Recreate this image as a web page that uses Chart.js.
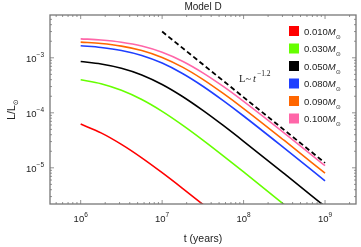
<!DOCTYPE html>
<html>
<head>
<meta charset="utf-8">
<script src="https://cdn.jsdelivr.net/npm/chart.js@4.4.1/dist/chart.umd.min.js"></script>
<style>
  html, body { margin: 0; padding: 0; background: #fff; }
  #wrap { width: 361px; height: 247px; }
</style>
</head>
<body>
<div id="wrap"><canvas id="chart" width="361" height="247"></canvas></div>
<script>
// time grid (years)
var times = [1e6, 1.778e6, 3.162e6, 5.623e6, 1e7, 1.778e7, 3.162e7, 5.623e7, 1e8, 3.162e8, 1e9];

// luminosity L/Lsun
var lum010 = [6.24e-5, 4.32e-5, 2.67e-5, 1.521e-5, 8.17e-6, 4.25e-6, 2.17e-6, 1.099e-6, 5.5e-7];
var lum030 = [3.98e-4, 3.37e-4, 2.56e-4, 1.742e-4, 1.062e-4, 5.97e-5, 3.19e-5, 1.652e-5, 8.41e-6, 2.14e-6, 5.4e-7];
var lum050 = [8.57e-4, 7.73e-4, 6.47e-4, 4.89e-4, 3.28e-4, 1.982e-4, 1.107e-4, 5.89e-5, 3.04e-5, 7.82e-6, 1.977e-6];
var lum080 = [1.652e-3, 1.542e-3, 1.361e-3, 1.104e-3, 8.02e-4, 5.18e-4, 3.04e-4, 1.663e-4, 8.75e-5, 2.28e-5, 5.79e-6];
var lum090 = [1.928e-3, 1.82e-3, 1.633e-3, 1.358e-3, 1.016e-3, 6.76e-4, 4.06e-4, 2.25e-4, 1.197e-4, 3.14e-5, 7.98e-6];
var lum100 = [2.213e-3, 2.109e-3, 1.923e-3, 1.637e-3, 1.262e-3, 8.67e-4, 5.33e-4, 3.02e-4, 1.618e-4, 4.29e-5, 1.091e-5];

// reference power law L ~ t^-1.2
var slopeT = [1e7, 1e9];
var slopeL = [3.0e-3, 1.23e-5];

var masses = ['0.010', '0.030', '0.050', '0.080', '0.090', '0.100'];
var colors = ['#ff0000', '#66ff00', '#000000', '#1f3fff', '#ff6600', '#ff66a8'];

var xTicks = [6, 7, 8, 9];
var yTicks = [-3, -4, -5];

function pts(xs, ys) {
  var out = [];
  for (var i = 0; i < ys.length; i++) out.push({x: xs[i], y: ys[i]});
  return out;
}

var series = [lum010, lum030, lum050, lum080, lum090, lum100];
var datasets = [];
for (var i = 0; i < series.length; i++) {
  datasets.push({
    label: masses[i],
    data: pts(times, series[i]),
    borderColor: colors[i],
    backgroundColor: colors[i],
    borderWidth: 1.6,
    pointRadius: 0,
    cubicInterpolationMode: 'monotone'
  });
}
datasets.push({
  label: 'slope',
  data: pts(slopeT, slopeL),
  borderColor: '#000',
  borderWidth: 1.8,
  borderDash: [5, 3],
  pointRadius: 0
});

var frameColor = '#777';

var decor = {
  id: 'decor',
  afterDraw: function(chart) {
    var ctx = chart.ctx, a = chart.chartArea;
    var xs = chart.scales.x, ys = chart.scales.y;
    ctx.save();

    // frame
    ctx.strokeStyle = frameColor;
    ctx.lineWidth = 1.3;
    ctx.strokeRect(a.left, a.top, a.right - a.left, a.bottom - a.top);

    // inward log ticks on all sides
    ctx.lineWidth = 0.8;
    ctx.beginPath();
    for (var d = 5; d <= 9; d++) {
      for (var m = 1; m <= 9; m++) {
        var v = m * Math.pow(10, d);
        var px = xs.getPixelForValue(v);
        if (px < a.left + 1 || px > a.right - 1) continue;
        var len = m === 1 ? 4 : 2;
        ctx.moveTo(px, a.bottom); ctx.lineTo(px, a.bottom - len);
        ctx.moveTo(px, a.top); ctx.lineTo(px, a.top + len);
      }
    }
    for (var e = -6; e <= -3; e++) {
      for (var k = 1; k <= 9; k++) {
        var val = k * Math.pow(10, e);
        var py = ys.getPixelForValue(val);
        if (py < a.top + 1 || py > a.bottom - 1) continue;
        var l2 = k === 1 ? 4 : 2;
        ctx.moveTo(a.left, py); ctx.lineTo(a.left + l2, py);
        ctx.moveTo(a.right, py); ctx.lineTo(a.right - l2, py);
      }
    }
    ctx.stroke();

    ctx.fillStyle = '#222';
    ctx.textBaseline = 'alphabetic';

    // x tick labels 10^n
    xTicks.forEach(function(p) {
      var x = xs.getPixelForValue(Math.pow(10, p));
      ctx.font = '9.5px "Liberation Sans", Arial, sans-serif';
      var w1 = ctx.measureText('10').width;
      ctx.font = '6.5px "Liberation Sans", Arial, sans-serif';
      var w2 = ctx.measureText(String(p)).width;
      var x0 = x - (w1 + w2) / 2;
      ctx.font = '9.5px "Liberation Sans", Arial, sans-serif';
      ctx.textAlign = 'left';
      ctx.fillText('10', x0, 222);
      ctx.font = '6.5px "Liberation Sans", Arial, sans-serif';
      ctx.fillText(String(p), x0 + w1, 217);
    });

    // y tick labels 10^-n
    yTicks.forEach(function(p) {
      var y = ys.getPixelForValue(Math.pow(10, p));
      var ex = '\u2212' + String(-p);
      ctx.font = '6.5px "Liberation Sans", Arial, sans-serif';
      var w2 = ctx.measureText(ex).width;
      ctx.font = '9.5px "Liberation Sans", Arial, sans-serif';
      var w1 = ctx.measureText('10').width;
      var xr = a.left - 6;
      ctx.textAlign = 'left';
      ctx.fillText('10', xr - w1 - w2, y + 4);
      ctx.font = '6.5px "Liberation Sans", Arial, sans-serif';
      ctx.fillText(ex, xr - w2, y - 0.5);
    });

    // title
    ctx.textAlign = 'center';
    ctx.font = '10px "Liberation Sans", Arial, sans-serif';
    ctx.fillText('Model D', (a.left + a.right) / 2, 10);

    // x axis title
    ctx.font = '10.5px "Liberation Sans", Arial, sans-serif';
    ctx.fillText('t (years)', (a.left + a.right) / 2, 242);

    // y axis title L/L_sun
    ctx.save();
    ctx.translate(15, (a.top + a.bottom) / 2);
    ctx.rotate(-Math.PI / 2);
    ctx.font = '10.5px "Liberation Sans", Arial, sans-serif';
    var t1 = 'L/L';
    var wt = ctx.measureText(t1).width;
    ctx.font = '7px "DejaVu Sans", sans-serif';
    var ws = ctx.measureText('\u2299').width;
    var sx = -(wt + ws) / 2;
    ctx.textAlign = 'left';
    ctx.font = '10.5px "Liberation Sans", Arial, sans-serif';
    ctx.fillText(t1, sx, 0);
    ctx.font = '7px "DejaVu Sans", sans-serif';
    ctx.fillText('\u2299', sx + wt, 3);
    ctx.restore();

    // power-law label
    ctx.textAlign = 'left';
    ctx.font = '10.5px "Liberation Serif", "Times New Roman", serif';
    ctx.fillText('L~', 239, 82);
    var wl = ctx.measureText('L~').width;
    ctx.font = 'italic 10.5px "Liberation Serif", "Times New Roman", serif';
    ctx.fillText('t', 239 + wl + 2, 82);
    var wtt = ctx.measureText('t').width;
    ctx.font = '7.5px "Liberation Serif", "Times New Roman", serif';
    ctx.fillText('\u22121.2', 239 + wl + wtt + 3, 76);

    // legend
    for (var i = 0; i < masses.length; i++) {
      var cy = 31 + i * 17.5;
      ctx.fillStyle = colors[i];
      ctx.fillRect(289, cy - 5, 10, 10);
      ctx.fillStyle = '#222';
      ctx.font = '9.5px "Liberation Sans", Arial, sans-serif';
      ctx.fillText(masses[i], 304, cy + 3.5);
      var wm = ctx.measureText(masses[i]).width;
      ctx.font = 'italic 9.5px "Liberation Sans", Arial, sans-serif';
      ctx.fillText('M', 304 + wm, cy + 3.5);
      var wM = ctx.measureText('M').width;
      ctx.font = '6px "DejaVu Sans", sans-serif';
      ctx.fillText('\u2299', 304 + wm + wM, cy + 7.5);
    }

    ctx.restore();
  }
};

new Chart(document.getElementById('chart'), {
  type: 'line',
  data: { datasets: datasets },
  options: {
    responsive: false,
    animation: false,
    layout: { padding: { left: 50, right: 5, top: 15, bottom: 43 } },
    plugins: { legend: { display: false }, tooltip: { enabled: false } },
    scales: {
      x: { type: 'logarithmic', display: false, min: 4.2e5, max: 2.4e9 },
      y: { type: 'logarithmic', display: false, min: 2.2e-6, max: 6.0e-3 }
    }
  },
  plugins: [decor]
});
</script>
</body>
</html>
